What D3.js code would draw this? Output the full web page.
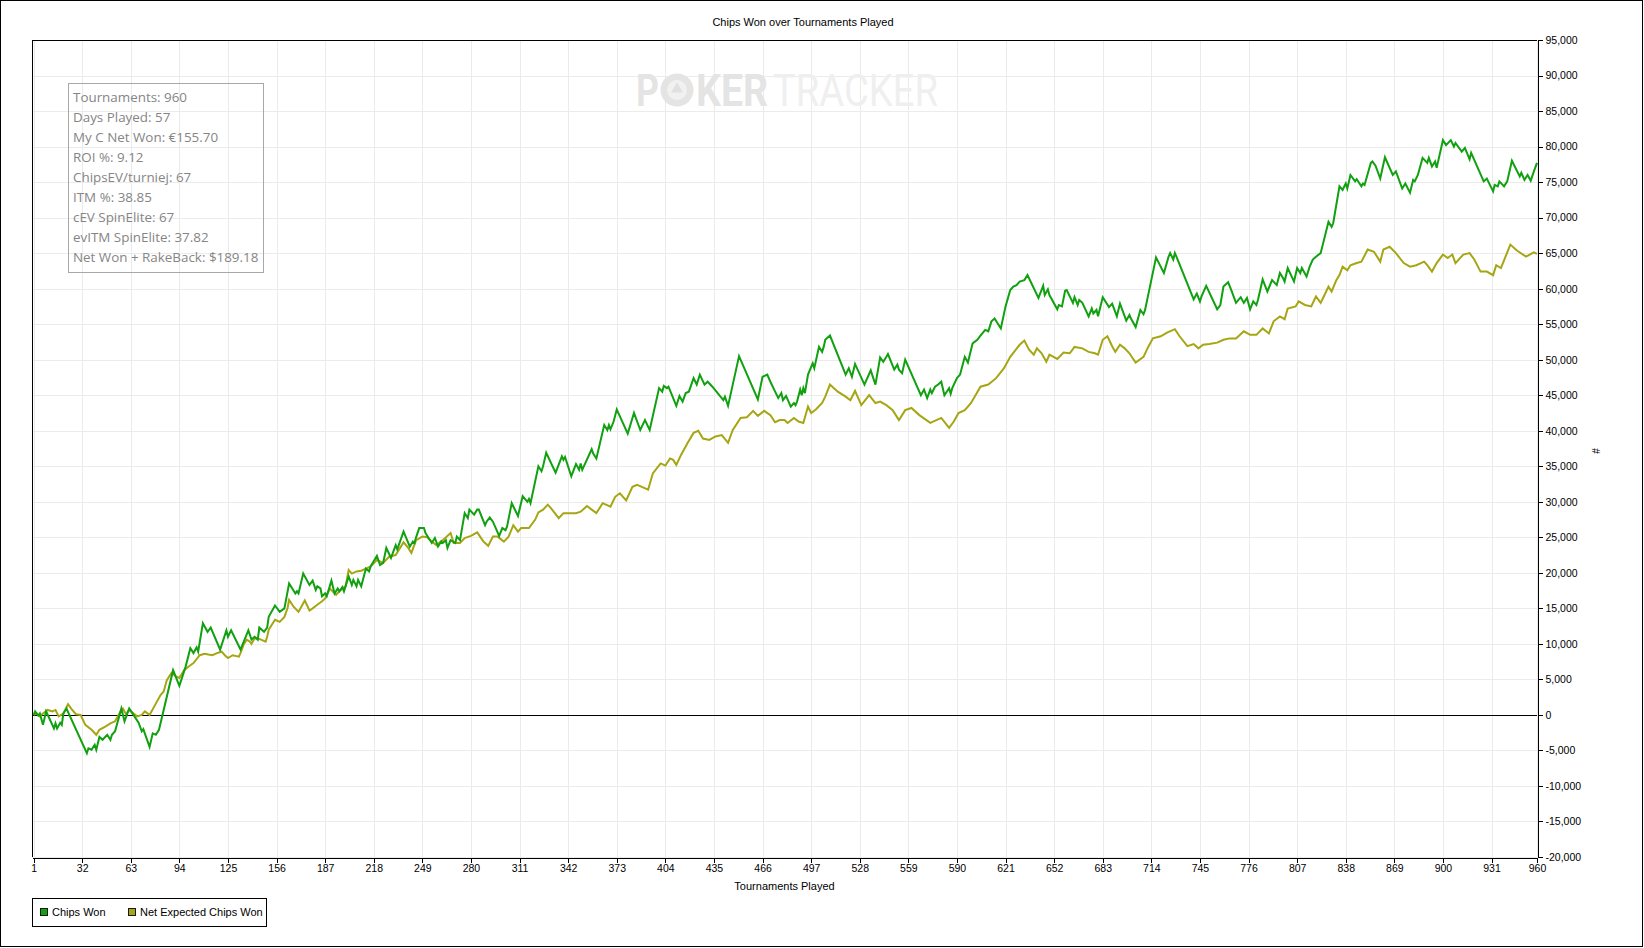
<!DOCTYPE html>
<html>
<head>
<meta charset="utf-8">
<script src="https://cdn.jsdelivr.net/npm/d3@7"></script>
<style>
  html, body { margin: 0; padding: 0; background: #fff; }
  svg { display: block; }
</style>
</head>
<body>
<svg id="chart" width="1644" height="948" font-family="Liberation Sans, Arial, sans-serif"></svg>
<script>
// ---------------- data ----------------
const chartTitle = "Chips Won over Tournaments Played";
const xAxisTitle = "Tournaments Played";
const yAxisTitle = "#";
const seriesNames = ["Chips Won", "Net Expected Chips Won"];
const seriesColors = ["#10a010", "#a6a614"];
const xTickValues = [1,32,63,94,125,156,187,218,249,280,311,342,373,404,435,466,497,528,559,590,621,652,683,714,745,776,807,838,869,900,931,960];
const yTickValues = [-20000,-15000,-10000,-5000,0,5000,10000,15000,20000,25000,30000,35000,40000,45000,50000,55000,60000,65000,70000,75000,80000,85000,90000,95000];
const statsLines = [
  "Tournaments: 960",
  "Days Played: 57",
  "My C Net Won: €155.70",
  "ROI %: 9.12",
  "ChipsEV/turniej: 67",
  "ITM %: 38.85",
  "cEV SpinElite: 67",
  "evITM SpinElite: 37.82",
  "Net Won + RakeBack: $189.18"
];

// [tournament, chips]
const chipsWon = [[1,0],[2,500],[4,-100],[5,200],[7,-1400],[9,500],[14,-1900],[15,-1200],[16,-1900],[18,-1100],[19,-1400],[20,200],[22,900],[35,-5400],[36,-4700],[38,-4900],[40,-4200],[41,-4900],[43,-3100],[45,-3500],[48,-2800],[50,-3500],[51,-2800],[53,-2300],[57,900],[59,-900],[62,900],[68,-1100],[70,-2300],[71,-2000],[75,-4500],[77,-2600],[79,-2800],[81,-2100],[90,6300],[94,4100],[98,6800],[101,9400],[103,8700],[105,9500],[106,8900],[109,12900],[112,11700],[114,12300],[120,9200],[124,11900],[125,11000],[127,11900],[133,9200],[138,11900],[140,10600],[142,11000],[144,10600],[145,12300],[148,11700],[150,12300],[151,13800],[155,15400],[158,14500],[161,15000],[164,18500],[168,17100],[169,17400],[170,17100],[173,19900],[177,18300],[179,18900],[181,17600],[182,18100],[184,17800],[185,16700],[187,17100],[188,16700],[191,18900],[193,17100],[195,17800],[196,17400],[198,18000],[199,17400],[202,19500],[204,18300],[205,19000],[207,18100],[208,19000],[210,18100],[213,20600],[215,20200],[216,20900],[220,22400],[222,21100],[224,21400],[226,23500],[229,22100],[232,23900],[233,23300],[237,25800],[241,23700],[243,24400],[244,24200],[245,25000],[247,26300],[250,26300],[251,25600],[255,24200],[257,24900],[259,23700],[261,24400],[262,24200],[264,24600],[265,23500],[267,24600],[270,24200],[271,25100],[273,24600],[276,28400],[278,27700],[279,28900],[282,28200],[284,28900],[285,28900],[289,26700],[290,27200],[292,27800],[294,27200],[298,25200],[300,26300],[302,26000],[303,26500],[306,29800],[310,28000],[313,30800],[316,30000],[317,30400],[318,29800],[323,35000],[325,34300],[326,35000],[328,36900],[334,34100],[338,36400],[339,35900],[340,36300],[344,33600],[347,35300],[349,34500],[350,35400],[351,34500],[357,37400],[358,36800],[360,36100],[365,40800],[367,40100],[368,40800],[369,40200],[371,41300],[373,43000],[380,39600],[384,42500],[388,40100],[391,41500],[394,40100],[400,46000],[402,45500],[403,46300],[405,46000],[406,46200],[411,43500],[413,44900],[415,44100],[417,45300],[419,45500],[422,47400],[424,46500],[426,47900],[429,46500],[431,46900],[434,46200],[441,44300],[442,44800],[444,43500],[451,50500],[463,44400],[466,47600],[469,47900],[471,46900],[476,44600],[478,45300],[479,44300],[481,44900],[484,43400],[486,43900],[487,43600],[488,44100],[490,45800],[491,45000],[492,46000],[493,45300],[495,47900],[497,49000],[498,49500],[499,48800],[502,51800],[504,51100],[505,51800],[506,52800],[509,53400],[519,47900],[521,48800],[523,47600],[525,49400],[531,46500],[535,48500],[538,46500],[541,50300],[543,49700],[545,50400],[546,50800],[550,48600],[552,49300],[553,48600],[555,48100],[557,50000],[567,45000],[569,45800],[571,44600],[573,45800],[574,45300],[576,46200],[578,46500],[580,46900],[582,45000],[585,46000],[586,45200],[587,46000],[590,47400],[592,47900],[595,50400],[597,49600],[600,52300],[603,52800],[605,53400],[608,54200],[610,54000],[612,55400],[614,55800],[618,54400],[621,57500],[624,59800],[626,60300],[628,60500],[630,61000],[633,61200],[635,61900],[642,58700],[645,60400],[646,59100],[648,59900],[649,59100],[654,57100],[655,57700],[657,57500],[659,59700],[660,59800],[664,58000],[665,58800],[667,57700],[668,58400],[670,58000],[674,56100],[676,57200],[677,56500],[679,57000],[680,56100],[683,58800],[687,57400],[689,57900],[692,56100],[694,57900],[698,55500],[700,56300],[701,55800],[704,54600],[707,57000],[709,56400],[710,57000],[717,64400],[722,62200],[725,64500],[726,65000],[728,64100],[729,65000],[730,64500],[741,58500],[743,59300],[745,58200],[746,58900],[749,60400],[756,57100],[758,57700],[760,60300],[763,60900],[765,59800],[768,58000],[771,58800],[773,58000],[775,58700],[777,57100],[779,58200],[781,57700],[782,58400],[785,61300],[788,59600],[791,61200],[794,60500],[796,62200],[798,61500],[799,61000],[801,62900],[805,61000],[807,62900],[809,62200],[810,62900],[813,61700],[815,63100],[817,64100],[819,64500],[822,65000],[827,69400],[829,68700],[830,69200],[834,74400],[836,73900],[838,74800],[839,74100],[841,76000],[844,75100],[845,75400],[848,74400],[849,74800],[850,74600],[854,77700],[855,77900],[857,77300],[860,75500],[863,78500],[868,76000],[870,76500],[874,74100],[876,74800],[879,73500],[881,75300],[882,75100],[884,76000],[887,78400],[890,77700],[891,78400],[893,77200],[895,77900],[896,77000],[900,80900],[902,80200],[905,80900],[907,80000],[908,80500],[912,79300],[914,79800],[917,78200],[918,79100],[926,75100],[928,75500],[932,73700],[933,74600],[935,74400],[936,75100],[939,74400],[941,75100],[944,78000],[949,75800],[950,76300],[952,75300],[954,76000],[956,75200],[958,76500],[960,77700]];

const netExpectedChipsWon = [[1,0],[3,200],[5,-200],[7,200],[10,700],[13,500],[15,700],[17,-200],[20,200],[23,1500],[25,900],[28,100],[31,0],[34,-1400],[38,-2100],[41,-2800],[43,-2100],[47,-1600],[50,-1200],[53,-900],[54,-500],[57,700],[58,900],[60,100],[62,700],[67,-200],[70,0],[72,500],[75,0],[78,1200],[82,2800],[84,3300],[86,4900],[89,5900],[92,5400],[94,5200],[97,6300],[101,7000],[103,7300],[107,8400],[110,8600],[115,8400],[118,8700],[121,8900],[123,8400],[125,8000],[128,8400],[132,8200],[133,8700],[135,9900],[137,10600],[139,10300],[140,10000],[142,10800],[145,10700],[149,10300],[150,11000],[151,12000],[153,12700],[155,13400],[158,13100],[161,13800],[163,15000],[164,16200],[167,15200],[170,14500],[174,16100],[177,14700],[179,15000],[182,15500],[185,16000],[187,16400],[190,17800],[194,16900],[196,17400],[200,18100],[202,20400],[204,19900],[207,20200],[210,20300],[213,20600],[216,20900],[220,21800],[224,21400],[228,22300],[232,22500],[237,24300],[240,23500],[242,22800],[245,24600],[249,25100],[252,25000],[255,24400],[258,23900],[262,24600],[267,25600],[269,24200],[273,24200],[276,24900],[280,25200],[284,25700],[288,24400],[291,23800],[294,25100],[297,25100],[301,24400],[304,25100],[307,26700],[310,25800],[312,26300],[317,26300],[321,27500],[323,28500],[326,28900],[329,29600],[331,29100],[336,27700],[339,28400],[343,28400],[347,28400],[350,28600],[354,29400],[357,28900],[360,28400],[364,29800],[369,29300],[372,30700],[375,31200],[379,30200],[383,32100],[386,32400],[389,32100],[393,31700],[396,34000],[401,35400],[404,35100],[407,36100],[409,35900],[411,35200],[414,36600],[418,38200],[422,39700],[425,40000],[428,38900],[432,38700],[436,39200],[440,39400],[444,38300],[447,40100],[452,41800],[456,41900],[460,42800],[463,42100],[467,42800],[471,42200],[474,41200],[477,41500],[480,41500],[482,41100],[486,41800],[489,41300],[492,41100],[495,43400],[497,42500],[500,43000],[504,43900],[506,44800],[509,46500],[511,46100],[514,45500],[519,44800],[522,44300],[525,45600],[529,43600],[534,45000],[538,43900],[541,44100],[545,43600],[549,42900],[553,41500],[557,42900],[561,43200],[566,42200],[573,41100],[580,41800],[585,40400],[588,41300],[591,42500],[595,42900],[599,43900],[605,46200],[610,46500],[615,47400],[620,48800],[624,50400],[630,52100],[633,52700],[636,51400],[639,50700],[641,51600],[644,50900],[647,49700],[649,50700],[654,50100],[658,51000],[662,50900],[665,51800],[670,51600],[674,51100],[678,50900],[680,50700],[683,52800],[686,53300],[689,51900],[691,51100],[694,52100],[697,51600],[700,50900],[704,49600],[709,50400],[712,51800],[715,53000],[720,53300],[724,53800],[729,54300],[732,53300],[737,51900],[741,52200],[744,51600],[747,52100],[751,52200],[756,52400],[760,52800],[764,53000],[768,53000],[773,54000],[777,53500],[781,53500],[785,54400],[789,53700],[792,55400],[796,56100],[799,55700],[801,57200],[806,57500],[808,58200],[812,57700],[816,57500],[819,58900],[822,58000],[824,58900],[827,60300],[829,59600],[832,61200],[834,61900],[836,63100],[839,62600],[841,63300],[845,63600],[848,63800],[852,65500],[856,65200],[860,63800],[862,65500],[866,65900],[870,65000],[875,63600],[879,63100],[883,63300],[888,63800],[890,63300],[893,62400],[896,63600],[900,64800],[903,64300],[906,64800],[908,63600],[913,64800],[917,65000],[920,64100],[924,62400],[928,62400],[932,61900],[934,63300],[937,62900],[943,66200],[947,65400],[953,64500],[958,65100],[960,64900]];

// ---------------- layout ----------------
const W = 1644, H = 948;
const plot = { left: 32, right: 1537, top: 40, bottom: 857 };

const svg = d3.select("#chart");

const x = d3.scaleLinear().domain([0, 960]).range([plot.left, plot.right]);
const y = d3.scaleLinear().domain([-20000, 95000]).range([plot.bottom, plot.top]);

const fmt = v => d3.format(",")(v).replace("\u2212", "-");

// outer border
svg.append("rect").attr("x", 0.5).attr("y", 0.5).attr("width", W - 2).attr("height", H - 2)
  .attr("fill", "#fff").attr("stroke", "#000").attr("stroke-width", 1);

// grid
const grid = svg.append("g").attr("shape-rendering", "crispEdges");
grid.selectAll("line.gy").data(yTickValues).join("line")
  .attr("x1", plot.left).attr("x2", plot.right)
  .attr("y1", d => Math.round(y(d)) + 0.5).attr("y2", d => Math.round(y(d)) + 0.5)
  .attr("stroke", "#ebebeb");
grid.selectAll("line.gx").data(xTickValues).join("line")
  .attr("y1", plot.top).attr("y2", plot.bottom)
  .attr("x1", d => Math.round(x(d)) + 0.5).attr("x2", d => Math.round(x(d)) + 0.5)
  .attr("stroke", "#ebebeb");

// watermark
const wm = svg.append("g").attr("pointer-events", "none");
wm.append("text").attr("x", 636).attr("y", 106).text("P")
  .style("font-family", "Roboto, sans-serif").attr("font-weight", 700).attr("font-size", 45)
  .attr("fill", "#e4e4e4").attr("textLength", 23).attr("lengthAdjust", "spacingAndGlyphs");
wm.append("circle").attr("cx", 677).attr("cy", 90).attr("r", 16.5).attr("fill", "#e4e4e4");
wm.append("circle").attr("cx", 677).attr("cy", 90).attr("r", 10).attr("fill", "#f1f1f1");
wm.append("path").attr("d", d3.symbol(d3.symbolTriangle, 60)).attr("transform", "translate(677,89)")
  .attr("fill", "#e0e0e0");
wm.append("text").attr("x", 696).attr("y", 106).text("KER")
  .style("font-family", "Roboto, sans-serif").attr("font-weight", 700).attr("font-size", 45)
  .attr("fill", "#e4e4e4").attr("textLength", 72).attr("lengthAdjust", "spacingAndGlyphs");
wm.append("text").attr("x", 773).attr("y", 106).text("TRACKER")
  .style("font-family", "Roboto, sans-serif").attr("font-weight", 400).attr("font-size", 45)
  .attr("fill", "#efefef").attr("textLength", 165).attr("lengthAdjust", "spacingAndGlyphs");

// zero line
svg.append("line").attr("x1", plot.left).attr("x2", plot.right)
  .attr("y1", Math.round(y(0)) + 0.5).attr("y2", Math.round(y(0)) + 0.5)
  .attr("stroke", "#000").attr("shape-rendering", "crispEdges");

// series lines
const line = d3.line().x(d => x(d[0])).y(d => y(d[1]));
const drawOrder = [
  { data: netExpectedChipsWon, color: seriesColors[1] },
  { data: chipsWon, color: seriesColors[0] }
];
svg.append("g")
  .selectAll("path").data(drawOrder).join("path")
  .attr("d", d => line(d.data))
  .attr("fill", "none")
  .attr("stroke", d => d.color)
  .attr("stroke-width", 2)
  .attr("stroke-linejoin", "miter");

// plot frame (top & left)
svg.append("path")
  .attr("d", `M${plot.left + 0.5},${plot.bottom}V${plot.top + 0.5}H${plot.right}`)
  .attr("fill", "none").attr("stroke", "#000").attr("shape-rendering", "crispEdges");

// axes
const xAxis = d3.axisBottom(x).tickValues(xTickValues).tickSize(5).tickSizeOuter(0).tickFormat(d3.format("d"));
const gx = svg.append("g").attr("transform", `translate(0,${plot.bottom + 0.5})`).call(xAxis);
const yAxis = d3.axisRight(y).tickValues(yTickValues).tickSize(5).tickSizeOuter(0).tickFormat(fmt);
const gy = svg.append("g").attr("transform", `translate(${plot.right + 0.5},0)`).call(yAxis);
[gx, gy].forEach(g => {
  g.attr("font-family", "Liberation Sans, Arial, sans-serif").attr("font-size", 10.5);
  g.select(".domain").attr("stroke", "#000").attr("shape-rendering", "crispEdges");
  g.selectAll(".tick line").attr("stroke", "#000").attr("shape-rendering", "crispEdges");
  g.selectAll(".tick text").attr("fill", "#000");
});
gx.selectAll(".tick text").attr("dy", "0.9em").attr("y", 5);
gy.selectAll(".tick text").attr("x", 8);

// titles
svg.append("text").attr("x", 803).attr("y", 26).attr("text-anchor", "middle")
  .attr("font-size", 11).attr("fill", "#000").text(chartTitle);
svg.append("text").attr("x", (plot.left + plot.right) / 2).attr("y", 890).attr("text-anchor", "middle")
  .attr("font-size", 11).attr("fill", "#000").text(xAxisTitle);
svg.append("text").attr("transform", "translate(1592,451) rotate(90)").attr("text-anchor", "middle")
  .attr("font-size", 10).attr("fill", "#000").text(yAxisTitle);

// stats box
svg.append("rect").attr("x", 68.5).attr("y", 83.5).attr("width", 195).attr("height", 189)
  .attr("fill", "none").attr("stroke", "#a8a8a8");
svg.append("g").selectAll("text").data(statsLines).join("text")
  .attr("x", 73).attr("y", (d, i) => 101.5 + i * 20)
  .style("font-family", "'Open Sans', 'Noto Sans', sans-serif").attr("font-size", 13.4)
  .attr("fill", "#858585").text(d => d);

// legend
const lg = svg.append("g");
lg.append("rect").attr("x", 32.5).attr("y", 898.5).attr("width", 234).attr("height", 28)
  .attr("fill", "#fff").attr("stroke", "#000");
const legendX = [[40, 52], [128, 140]];
seriesNames.forEach((name, i) => {
  lg.append("rect").attr("x", legendX[i][0] + 0.5).attr("y", 908.5).attr("width", 7).attr("height", 7)
    .attr("fill", seriesColors[i]).attr("stroke", "#1a1a1a").attr("shape-rendering", "crispEdges");
  lg.append("text").attr("x", legendX[i][1]).attr("y", 916).attr("font-size", 11)
    .attr("fill", "#000").text(name);
});
</script>
</body>
</html>
